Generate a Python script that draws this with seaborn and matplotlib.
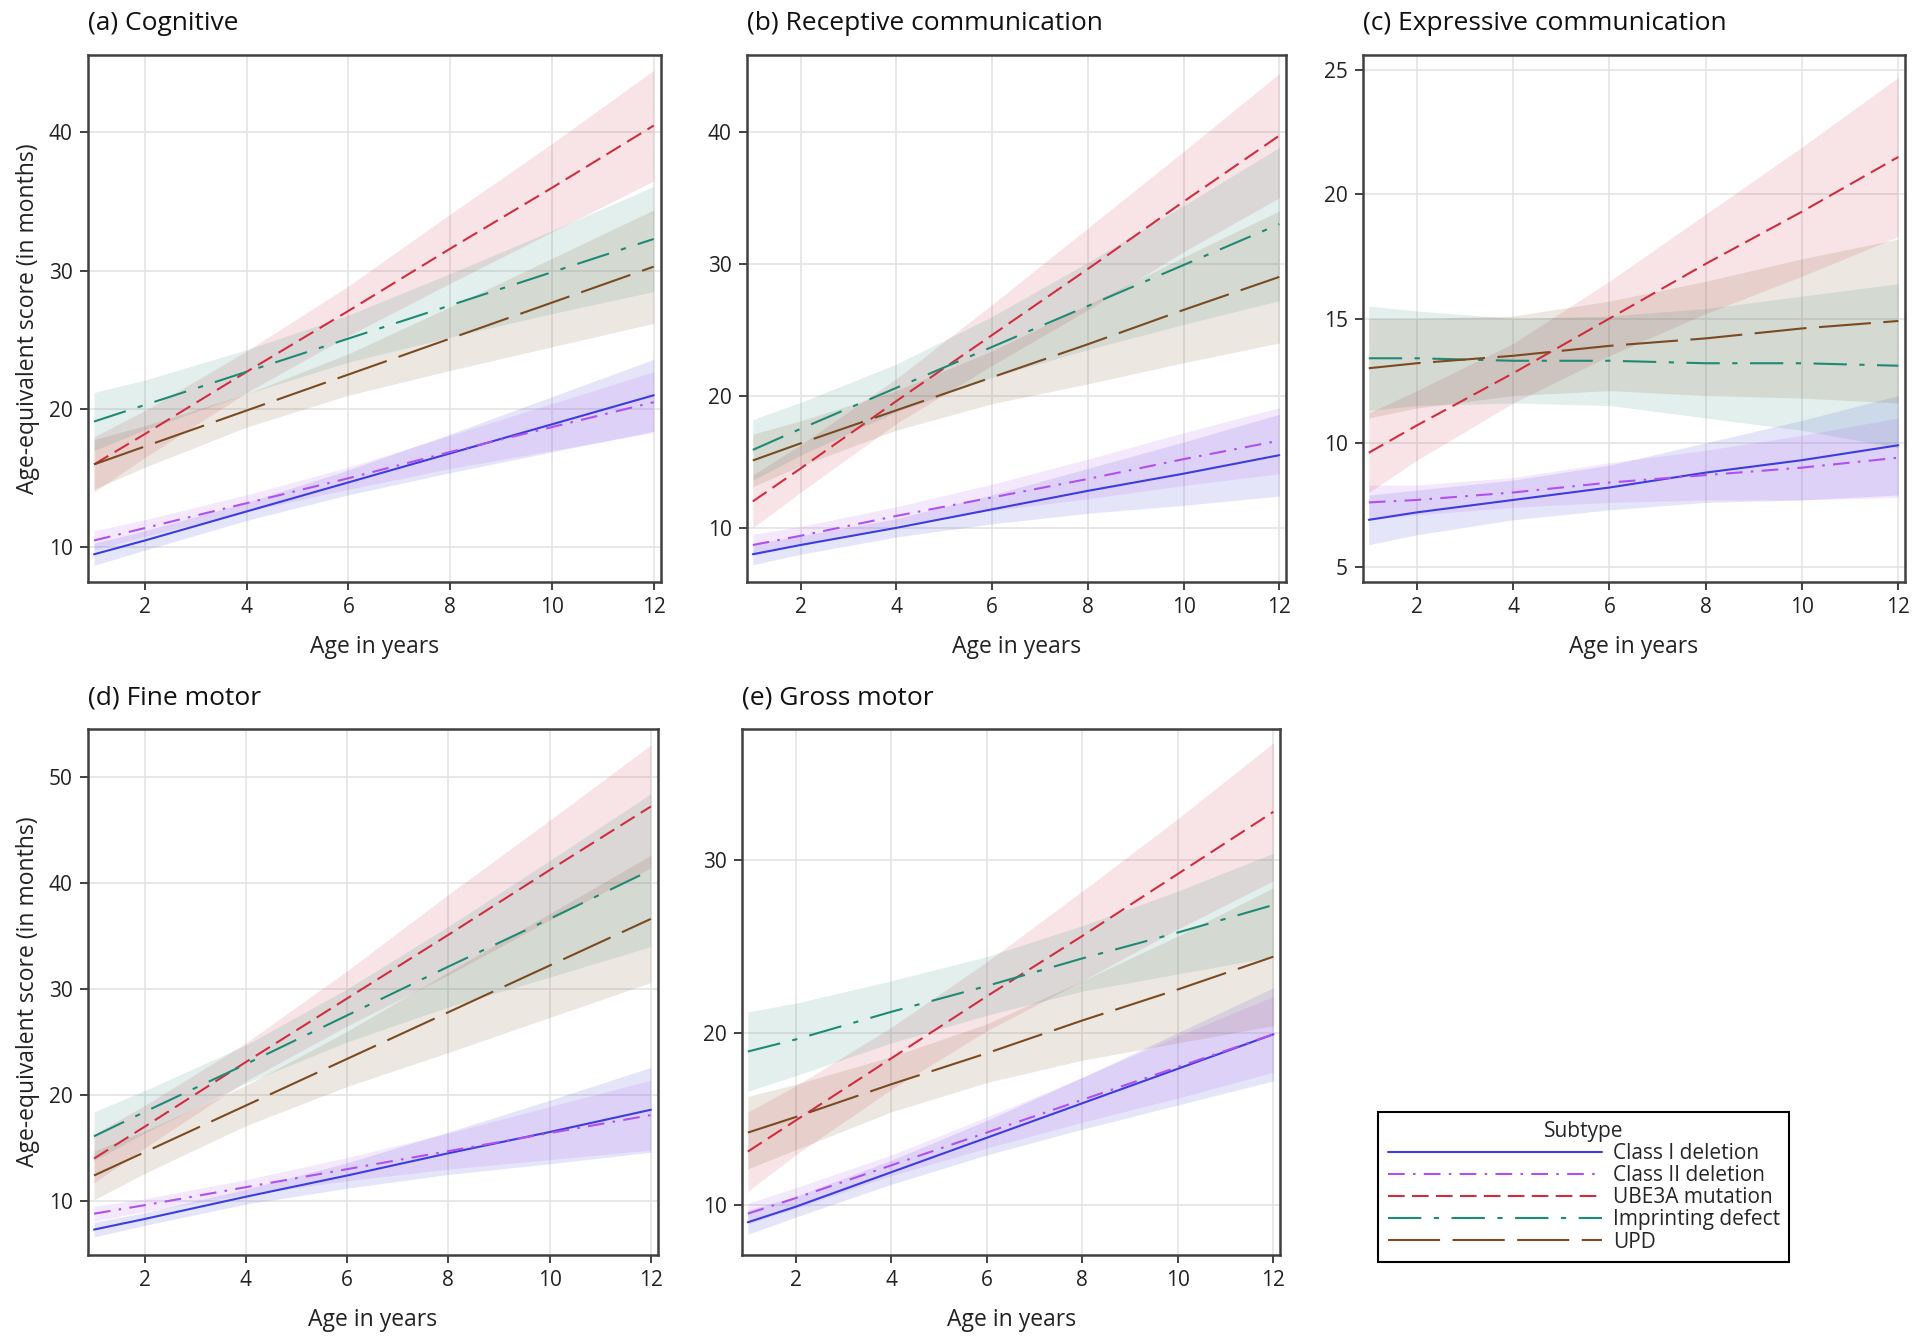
import numpy as np
import pandas as pd
import matplotlib.pyplot as plt
import seaborn as sns
from matplotlib.lines import Line2D

sns.set_style("whitegrid")
plt.rcParams['font.family'] = ['Open Sans', 'DejaVu Sans']

ages = [1, 2, 4, 6, 8, 10, 12]
subtypes = ['Class I deletion', 'Class II deletion', 'UBE3A mutation', 'Imprinting defect', 'UPD']

# (a) Cognitive: fitted mean and half-width of the confidence band, one row per subtype
cognitive_mean = [[9.5, 10.5, 12.6, 14.7, 16.8, 18.9, 21.0],
                  [10.5, 11.4, 13.2, 15.0, 16.9, 18.7, 20.5],
                  [16.0, 18.2, 22.7, 27.1, 31.6, 36.0, 40.5],
                  [19.1, 20.3, 22.7, 25.1, 27.5, 29.9, 32.3],
                  [16.0, 17.3, 19.9, 22.5, 25.1, 27.7, 30.3]]
cognitive_hw = [[0.8, 0.7, 0.65, 0.9, 1.4, 2.0, 2.6],
                [0.7, 0.6, 0.6, 0.8, 1.2, 1.7, 2.2],
                [2.0, 1.7, 1.5, 1.8, 2.5, 3.2, 4.0],
                [2.1, 1.8, 1.6, 1.7, 2.3, 3.0, 3.8],
                [1.8, 1.5, 1.2, 1.5, 2.3, 3.2, 4.1]]

# (b) Receptive communication
receptive_mean = [[8.0, 8.7, 10.0, 11.4, 12.8, 14.1, 15.5],
                  [8.7, 9.4, 10.9, 12.3, 13.7, 15.2, 16.6],
                  [12.0, 14.5, 19.6, 24.6, 29.6, 34.7, 39.7],
                  [15.9, 17.5, 20.6, 23.7, 26.8, 29.9, 33.0],
                  [15.1, 16.4, 18.9, 21.4, 23.9, 26.5, 29.0]]
receptive_hw = [[0.8, 0.7, 0.7, 1.1, 1.7, 2.4, 3.1],
                [0.8, 0.7, 0.7, 1.0, 1.5, 2.0, 2.5],
                [2.0, 1.8, 1.7, 2.3, 3.1, 3.8, 4.7],
                [2.3, 2.0, 1.8, 2.3, 3.3, 4.5, 5.8],
                [2.0, 1.7, 1.5, 2.0, 3.0, 4.0, 5.0]]

# (c) Expressive communication
expressive_mean = [[6.9, 7.2, 7.7, 8.2, 8.8, 9.3, 9.9],
                   [7.6, 7.7, 8.0, 8.4, 8.7, 9.0, 9.4],
                   [9.6, 10.7, 12.8, 15.0, 17.2, 19.3, 21.5],
                   [13.4, 13.4, 13.3, 13.3, 13.2, 13.2, 13.1],
                   [13.0, 13.2, 13.5, 13.9, 14.2, 14.6, 14.9]]
expressive_hw = [[1.0, 0.9, 0.8, 0.9, 1.2, 1.6, 2.0],
                 [0.7, 0.6, 0.6, 0.8, 1.0, 1.3, 1.6],
                 [1.6, 1.4, 1.2, 1.5, 2.0, 2.6, 3.2],
                 [2.1, 1.9, 1.7, 1.8, 2.2, 2.7, 3.3],
                 [2.0, 1.8, 1.6, 1.8, 2.3, 2.8, 3.3]]

# (d) Fine motor
fine_mean = [[7.3, 8.3, 10.4, 12.4, 14.5, 16.5, 18.6],
             [8.8, 9.6, 11.3, 13.0, 14.7, 16.4, 18.1],
             [14.0, 17.0, 23.1, 29.1, 35.1, 41.2, 47.2],
             [16.1, 18.4, 22.9, 27.5, 32.1, 36.6, 41.2],
             [12.4, 14.6, 19.0, 23.4, 27.8, 32.2, 36.6]]
fine_hw = [[0.7, 0.6, 0.7, 1.2, 2.0, 3.0, 4.0],
           [0.7, 0.6, 0.7, 1.1, 1.7, 2.5, 3.3],
           [2.3, 2.0, 1.8, 2.6, 3.8, 4.7, 5.8],
           [2.3, 2.0, 1.8, 2.5, 3.8, 5.5, 7.2],
           [2.3, 2.0, 1.9, 2.6, 3.8, 4.9, 6.0]]

# (e) Gross motor
gross_mean = [[9.0, 9.9, 11.9, 13.9, 15.9, 17.9, 19.9],
              [9.5, 10.4, 12.3, 14.2, 16.1, 18.0, 19.9],
              [13.1, 14.9, 18.5, 22.1, 25.6, 29.2, 32.8],
              [18.9, 19.6, 21.2, 22.7, 24.3, 25.8, 27.4],
              [14.2, 15.1, 17.0, 18.8, 20.7, 22.5, 24.4]]
gross_hw = [[0.7, 0.6, 0.7, 1.0, 1.5, 2.1, 2.7],
            [0.6, 0.6, 0.6, 0.9, 1.3, 1.8, 2.2],
            [2.3, 2.0, 1.8, 2.0, 2.6, 3.2, 4.0],
            [2.3, 2.1, 1.8, 1.7, 1.9, 2.4, 3.0],
            [2.1, 1.9, 1.6, 1.7, 2.3, 3.1, 4.0]]

titles = ['(a) Cognitive', '(b) Receptive communication', '(c) Expressive communication',
          '(d) Fine motor', '(e) Gross motor']
means = [cognitive_mean, receptive_mean, expressive_mean, fine_mean, gross_mean]
halfwidths = [cognitive_hw, receptive_hw, expressive_hw, fine_hw, gross_hw]
ylims = [(7.5, 45.6), (5.9, 45.8), (4.4, 25.6), (4.9, 54.5), (7.1, 37.6)]
yticks = [[10, 20, 30, 40], [10, 20, 30, 40], [5, 10, 15, 20, 25],
          [10, 20, 30, 40, 50], [10, 20, 30]]

colors = {'Class I deletion': '#3c3ce0',
          'Class II deletion': '#b050f0',
          'UBE3A mutation': '#d02e40',
          'Imprinting defect': '#1f8a74',
          'UPD': '#7a4a20'}
dashes = {'Class I deletion': '',
          'Class II deletion': (8, 4, 1.2, 4),
          'UBE3A mutation': (8, 3.5),
          'Imprinting defect': (16, 6, 2.5, 6),
          'UPD': (25, 6)}

positions = [[0.0458, 0.5644, 0.2984, 0.3944],
             [0.3891, 0.5644, 0.2807, 0.3944],
             [0.7099, 0.5644, 0.2823, 0.3944],
             [0.0458, 0.0606, 0.2969, 0.3937],
             [0.3865, 0.0606, 0.2802, 0.3937]]

fig = plt.figure(figsize=(19.2, 13.36), dpi=100)

for i in range(5):
    ax = fig.add_axes(positions[i])
    rows = []
    for s, name in enumerate(subtypes):
        for k, a in enumerate(ages):
            rows.append({'age': a, 'subtype': name,
                         'mean': means[i][s][k],
                         'lo': means[i][s][k] - halfwidths[i][s][k],
                         'hi': means[i][s][k] + halfwidths[i][s][k]})
    df = pd.DataFrame(rows)

    for name in subtypes:
        d = df[df['subtype'] == name]
        ax.fill_between(d['age'], d['lo'], d['hi'], color=colors[name], alpha=0.13, lw=0)

    sns.lineplot(data=df, x='age', y='mean', hue='subtype', style='subtype',
                 hue_order=subtypes, style_order=subtypes, palette=colors,
                 dashes=dashes, linewidth=1.5, legend=False, ax=ax)

    ax.set_xlim(0.88, 12.14)
    ax.set_ylim(*ylims[i])
    ax.set_xticks([2, 4, 6, 8, 10, 12])
    ax.set_yticks(yticks[i])
    ax.grid(True, color='#e4e4e4', linewidth=1.2)
    for sp in ax.spines.values():
        sp.set_visible(True)
        sp.set_color('#404040')
        sp.set_linewidth(1.8)
    ax.tick_params(bottom=True, left=True, direction='out', length=6, width=1.3,
                   color='#333333', labelsize=15, labelcolor='#222222', pad=5)
    ax.set_xlabel('Age in years', fontsize=16.5, color='#222222', labelpad=12)
    if i in (0, 3):
        ax.set_ylabel('Age-equivalent score (in months)', fontsize=16.5, color='#222222', labelpad=6)
    else:
        ax.set_ylabel('')
    ax.set_title(titles[i], loc='left', fontsize=19, color='#111111', pad=18)

handles = [Line2D([0], [0], color=colors[n], lw=1.5,
                  linestyle='-' if dashes[n] == '' else (0, dashes[n])) for n in subtypes]
leg = fig.legend(handles, subtypes, title='Subtype', loc='upper left',
                 bbox_to_anchor=(0.7125, 0.1755), frameon=True, fancybox=False,
                 edgecolor='black', framealpha=1, handlelength=10.3, fontsize=15,
                 title_fontsize=15, labelspacing=0.05, borderpad=0.45, handletextpad=0.5)
leg.get_frame().set_linewidth(1.5)

fig.savefig('out.png', dpi=100)
